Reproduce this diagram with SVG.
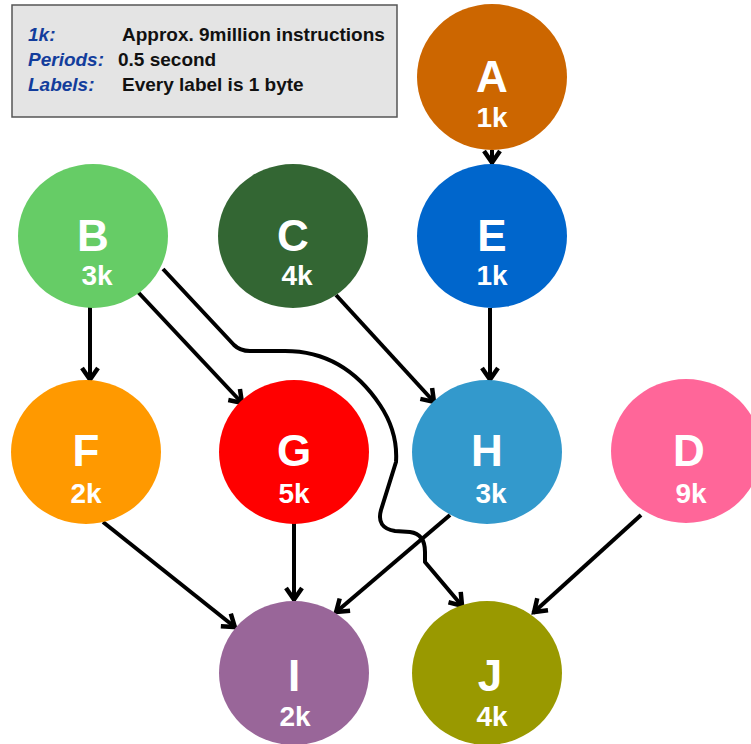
<svg xmlns="http://www.w3.org/2000/svg" width="751" height="744" viewBox="0 0 751 744">
  <style>
    .node-letter { font-family: "Liberation Sans", Arial, sans-serif; font-weight: bold; font-size: 44px; fill: #ffffff; text-anchor: middle; }
    .node-size { font-family: "Liberation Sans", Arial, sans-serif; font-weight: bold; font-size: 28px; fill: #ffffff; text-anchor: middle; }
    .key { font-family: "Liberation Sans", Arial, sans-serif; font-weight: bold; font-style: italic; font-size: 19px; fill: #133d9c; }
    .val { font-family: "Liberation Sans", Arial, sans-serif; font-weight: bold; font-size: 19px; fill: #111111; }
    .edge { fill: none; stroke: #000000; stroke-width: 4; stroke-linejoin: round; }
  </style>
  <defs>
    <marker id="arrow" markerUnits="userSpaceOnUse" markerWidth="24" markerHeight="24" viewBox="-20 -12 24 24" refX="0" refY="0" orient="auto">
      <path d="M-13,-8 L-1.5,0 L-13,8" fill="none" stroke="#000000" stroke-width="4.5" stroke-linejoin="miter" stroke-linecap="butt"/>
    </marker>
  </defs>

  <rect width="751" height="744" fill="#ffffff"/>

  <!-- legend -->
  <g id="legend">
    <rect x="12" y="5" width="385" height="112" fill="#e4e4e4" stroke="#555555" stroke-width="1.5"/>
    <text class="key" x="28" y="41">1k:</text>
    <text class="val" x="122" y="41">Approx. 9million instructions</text>
    <text class="key" x="28" y="66">Periods:</text>
    <text class="val" x="118" y="66">0.5 second</text>
    <text class="key" x="28" y="91">Labels:</text>
    <text class="val" x="122" y="91">Every label is 1 byte</text>
  </g>

  <!-- connectors -->
  <g id="connectors" class="edges">
    <path class="edge" d="M492,150 L492,164" marker-end="url(#arrow)"/>
    <path class="edge" d="M490,308 L490,381" marker-end="url(#arrow)"/>
    <path class="edge" d="M90,307 L90,381" marker-end="url(#arrow)"/>
    <path class="edge" d="M137,291 L243,404" marker-end="url(#arrow)"/>
    <path class="edge" d="M163,269 L234,345 Q240,351 250,351 L285,351 C330,351 360,375 380,405 Q398,432 396,462 L381,510 Q376,528 395,531 L410,532 Q425,534 425,552 L425,562 L463,607" marker-end="url(#arrow)"/>
    <path class="edge" d="M336,295 L435,403" marker-end="url(#arrow)"/>
    <path class="edge" d="M103,522 L236,628" marker-end="url(#arrow)"/>
    <path class="edge" d="M294,523 L294,601" marker-end="url(#arrow)"/>
    <path class="edge" d="M450,515 L335,613" marker-end="url(#arrow)"/>
    <path class="edge" d="M641,515 L533,613" marker-end="url(#arrow)"/>
  </g>

  <!-- nodes -->
  <g id="node-A">
    <ellipse cx="492" cy="77" rx="75" ry="73" fill="#cc6600"/>
    <text class="node-letter" x="492" y="92">A</text>
    <text class="node-size" x="492" y="127">1k</text>
  </g>
  <g id="node-B">
    <ellipse cx="93" cy="236" rx="75" ry="72" fill="#66cc66"/>
    <text class="node-letter" x="93" y="251">B</text>
    <text class="node-size" x="97" y="285">3k</text>
  </g>
  <g id="node-C">
    <ellipse cx="293" cy="236" rx="75" ry="72" fill="#336633"/>
    <text class="node-letter" x="293" y="251">C</text>
    <text class="node-size" x="297" y="285">4k</text>
  </g>
  <g id="node-E">
    <ellipse cx="492" cy="236" rx="75" ry="72" fill="#0066cc"/>
    <text class="node-letter" x="492" y="251">E</text>
    <text class="node-size" x="492" y="285">1k</text>
  </g>
  <g id="node-F">
    <ellipse cx="86" cy="452" rx="75" ry="72" fill="#ff9900"/>
    <text class="node-letter" x="86" y="466">F</text>
    <text class="node-size" x="86" y="503">2k</text>
  </g>
  <g id="node-G">
    <ellipse cx="294" cy="452" rx="75" ry="72" fill="#ff0000"/>
    <text class="node-letter" x="294" y="466">G</text>
    <text class="node-size" x="294" y="503">5k</text>
  </g>
  <g id="node-H">
    <ellipse cx="487" cy="452" rx="75" ry="72" fill="#3399cc"/>
    <text class="node-letter" x="487" y="466">H</text>
    <text class="node-size" x="491" y="503">3k</text>
  </g>
  <g id="node-D">
    <ellipse cx="686" cy="451" rx="75" ry="72" fill="#ff6699"/>
    <text class="node-letter" x="689" y="466">D</text>
    <text class="node-size" x="691" y="503">9k</text>
  </g>
  <g id="node-I">
    <ellipse cx="294" cy="673" rx="75" ry="72" fill="#996699"/>
    <text class="node-letter" x="294" y="691">I</text>
    <text class="node-size" x="295" y="726">2k</text>
  </g>
  <g id="node-J">
    <ellipse cx="487" cy="673" rx="75" ry="72" fill="#999900"/>
    <text class="node-letter" x="490" y="691">J</text>
    <text class="node-size" x="492" y="726">4k</text>
  </g>
</svg>
